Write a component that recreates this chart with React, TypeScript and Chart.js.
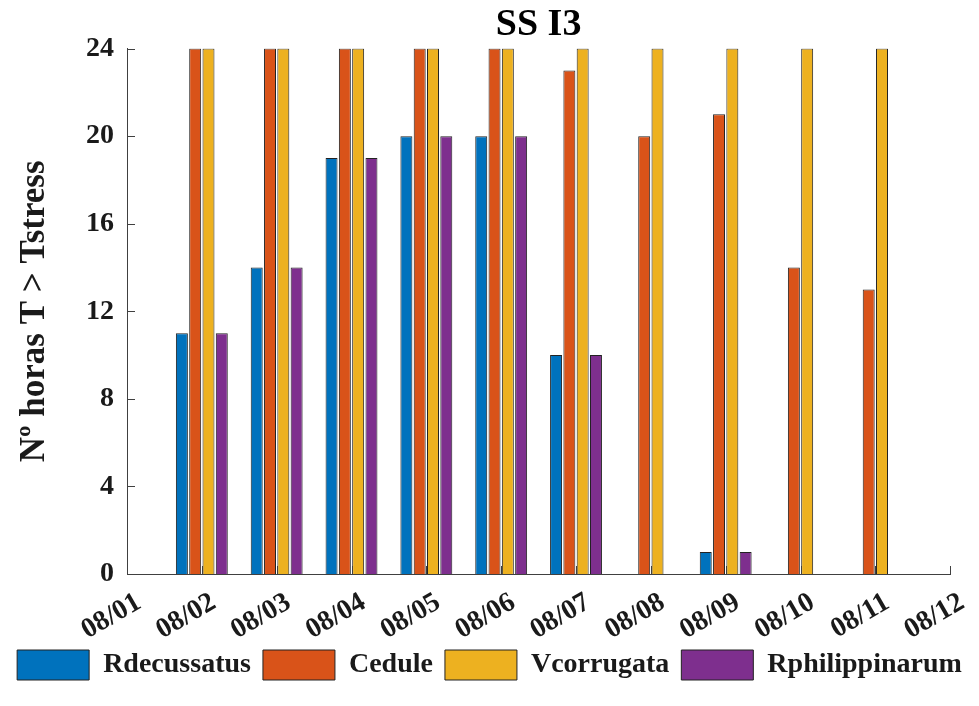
import React, { useEffect, useRef } from "react";
import { Chart, registerables } from "chart.js";

Chart.register(...registerables);

const TICK_LABELS = ["08/01", "08/02", "08/03", "08/04", "08/05", "08/06", "08/07", "08/08", "08/09", "08/10", "08/11", "08/12"];
const DATES = ["08/02", "08/03", "08/04", "08/05", "08/06", "08/07", "08/08", "08/09", "08/10", "08/11"];
const RDECUSSATUS = [11, 14, 19, 20, 20, 10, 0, 1, 0, 0];
const CEDULE = [24, 24, 24, 24, 24, 23, 20, 21, 14, 13];
const VCORRUGATA = [24, 24, 24, 24, 24, 24, 24, 24, 24, 24];
const RPHILIPPINARUM = [11, 14, 19, 20, 20, 10, 0, 1, 0, 0];
const Y_TICKS = [0, 4, 8, 12, 16, 20, 24];

const SERIES = [
  { name: "Rdecussatus", values: RDECUSSATUS, color: "#0072BD" },
  { name: "Cedule", values: CEDULE, color: "#D95319" },
  { name: "Vcorrugata", values: VCORRUGATA, color: "#EDB120" },
  { name: "Rphilippinarum", values: RPHILIPPINARUM, color: "#7E2F8E" },
];

const FONT = "'Liberation Serif', 'Times New Roman', serif";
const AXIS_COLOR = "#404040";
const TEXT_COLOR = "#1a1a1a";

const inwardTicks = {
  id: "inwardTicks",
  afterDatasetsDraw(chart: any) {
    const { ctx, chartArea } = chart;
    const x = chart.scales.x;
    const y = chart.scales.y;
    ctx.save();
    ctx.strokeStyle = AXIS_COLOR;
    ctx.lineWidth = 1;
    ctx.beginPath();
    y.ticks.forEach((_t: any, i: number) => {
      const py = Math.round(y.getPixelForTick(i)) + 0.5;
      ctx.moveTo(chartArea.left, py);
      ctx.lineTo(chartArea.left + 8, py);
    });
    x.ticks.forEach((_t: any, i: number) => {
      const px = Math.round(x.getPixelForTick(i)) + 0.5;
      ctx.moveTo(px, chartArea.bottom);
      ctx.lineTo(px, chartArea.bottom - 8);
    });
    ctx.stroke();
    ctx.restore();
  },
};

export default function App() {
  const ref = useRef<HTMLCanvasElement | null>(null);
  useEffect(() => {
    if (!ref.current) return;
    const chart = new Chart(ref.current, {
      type: "bar",
      data: {
        labels: TICK_LABELS,
        datasets: SERIES.map((s) => ({
          label: s.name,
          data: DATES.map((d, i) => ({ x: d, y: s.values[i] })),
          backgroundColor: s.color,
          borderColor: "#222222",
          borderWidth: 1,
          borderSkipped: "start",
          categoryPercentage: 0.711,
          barPercentage: 0.9,
        })),
      },
      options: {
        animation: false,
        responsive: false,
        layout: { padding: { left: 0, right: 0, top: 0, bottom: 16 } },
        scales: {
          x: {
            type: "category",
            offset: false,
            grid: { display: false, drawTicks: false },
            border: { display: true, color: AXIS_COLOR, width: 1 },
            ticks: {
              autoSkip: false,
              maxRotation: 30,
              minRotation: 30,
              padding: 12,
              labelOffset: 12,
              color: TEXT_COLOR,
              font: { family: FONT, size: 28, weight: "bold" },
            },
            afterFit: (s: any) => {
              s.height = 64;
            },
          },
          y: {
            min: 0,
            max: 24,
            afterBuildTicks: (s: any) => {
              s.ticks = Y_TICKS.map((v) => ({ value: v }));
            },
            grid: { display: false, drawTicks: false },
            border: { display: true, color: AXIS_COLOR, width: 1 },
            ticks: {
              padding: 13,
              color: TEXT_COLOR,
              font: { family: FONT, size: 28, weight: "bold" },
            },
            title: {
              display: true,
              text: "Nº horas T > Tstress",
              color: TEXT_COLOR,
              font: { family: FONT, size: 35, weight: "bold" },
              padding: { top: 14, bottom: 0 },
            },
            afterFit: (s: any) => {
              s.width = 127;
            },
          },
          yr: {
            position: "right",
            display: true,
            grid: { display: false, drawTicks: false },
            border: { display: false },
            ticks: { display: false },
            afterFit: (s: any) => {
              s.width = 27;
            },
          },
        },
        plugins: {
          title: {
            display: true,
            fullSize: false,
            text: "SS I3",
            color: "#000000",
            font: { family: FONT, size: 38, weight: "bold" },
            padding: { top: 2, bottom: 1 },
          },
          legend: {
            position: "bottom",
            labels: {
              boxWidth: 72,
              boxHeight: 30,
              padding: 12,
              color: TEXT_COLOR,
              font: { family: FONT, size: 28, weight: "bold" },
            },
          },
          tooltip: { enabled: false },
        },
      },
      plugins: [inwardTicks],
    } as any);
    return () => chart.destroy();
  }, []);
  return (
    <div style={{ position: "absolute", left: 0, top: 0, width: 979, height: 706, background: "#fff" }}>
      <canvas ref={ref} width={979} height={706} />
    </div>
  );
}
